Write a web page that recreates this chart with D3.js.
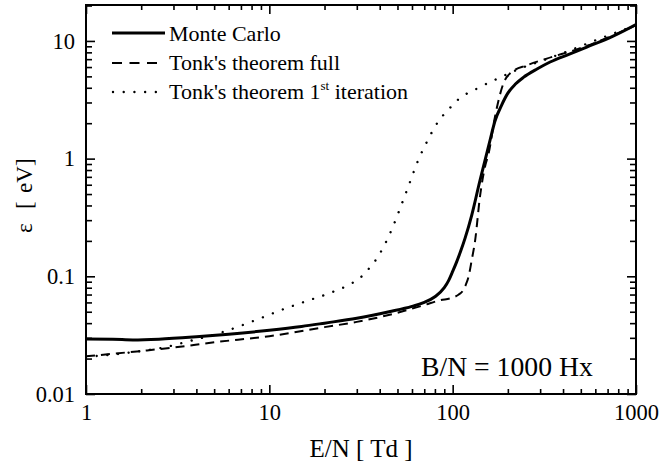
<!DOCTYPE html>
<html><head><meta charset="utf-8">
<script src="https://cdn.jsdelivr.net/npm/d3@7/dist/d3.min.js"></script>
<style>
body{margin:0;background:#fff}
svg{display:block}
text{font-family:"Liberation Serif","Times New Roman",serif;fill:#000}
</style>
</head><body>
<svg id="c" width="661" height="471"></svg>
<script>
// ---- data ----
const mcE   = [1, 1.4, 1.8, 2.5, 4, 6, 10, 15, 20, 30, 45, 60, 70, 80, 90, 95, 100, 105, 110, 117, 127, 141, 150, 160, 170, 185, 200, 220, 243, 290, 340, 430, 539, 750, 1000];
const mcEps = [0.0293, 0.0292, 0.0288, 0.0292, 0.0306, 0.0322, 0.0348, 0.0375, 0.040, 0.044, 0.050, 0.0555, 0.060, 0.067, 0.080, 0.092, 0.110, 0.132, 0.160, 0.212, 0.33, 0.655, 0.96, 1.44, 2.08, 2.85, 3.6, 4.3, 4.9, 5.8, 6.62, 7.7, 8.87, 11.0, 13.8];

const fullE   = [1, 2, 3, 5, 10, 20, 30, 50, 70, 85, 100, 108, 114, 118, 122, 127, 132.5, 141, 150, 157, 170, 189, 210, 254, 326, 500, 1000];
const fullEps = [0.0209, 0.0232, 0.0248, 0.0275, 0.031, 0.037, 0.041, 0.049, 0.057, 0.0625, 0.0660, 0.070, 0.076, 0.085, 0.099, 0.137, 0.20, 0.48, 0.85, 1.10, 2.25, 4.34, 5.44, 6.21, 7.08, 8.7, 13.6];

const iterE   = [1, 1.5, 2, 2.5, 3.74, 5.57, 8.28, 12.2, 16, 21, 27.3, 31.2, 35.4, 38.8, 41.9, 47.5, 52.7, 58, 64.2, 72.2, 84.2, 94, 107, 139, 181, 233, 312, 437, 650, 1000];
const iterEps = [0.0207, 0.0219, 0.0232, 0.0244, 0.0284, 0.0336, 0.042, 0.0532, 0.0617, 0.0713, 0.085, 0.0968, 0.119, 0.144, 0.177, 0.27, 0.41, 0.61, 0.93, 1.38, 2.11, 2.57, 3.17, 4.01, 4.88, 5.82, 6.84, 8.32, 10.6, 13.6];

const xTickValues = [1, 10, 100, 1000];
const xTickLabels = ["1", "10", "100", "1000"];
const yTickValues = [0.01, 0.1, 1, 10];
const yTickLabels = ["0.01", "0.1", "1", "10"];
const seriesNames = ["Monte Carlo", "Tonk's theorem full", "Tonk's theorem 1"];
const xTitle = "E/N [ Td ]";
const yTitleParts = ["\u03B5", "[", "eV", "]"];
const annotation = "B/N = 1000 Hx";

// ---- layout ----
const L = 86, R = 636, T = 5, B = 394;
const svg = d3.select("#c");
const x = d3.scaleLog().domain([1, 1000]).range([L, R]);
const y = d3.scaleLog().domain([0.01, 20.2]).range([B, T]);

function minors(lo, hi, max) {
  const out = [];
  for (let d = lo; d < hi; d *= 10)
    for (let k = 2; k <= 9; k++) if (d * k <= max) out.push(d * k);
  return out;
}
const xMinor = minors(1, 1000, 1000);
const yMinor = minors(0.01, 100, 20.2);

function styleAxis(g) {
  g.select(".domain").remove();
  g.selectAll("line").attr("stroke", "#000").attr("stroke-width", 1.6);
  g.selectAll("text").attr("font-size", 22.5).style("font-family", '"Liberation Serif","Times New Roman",serif');
}

// bottom
svg.append("g").attr("transform", `translate(0,${B})`)
  .call(d3.axisBottom(x).tickValues(xTickValues).tickFormat((d, i) => xTickLabels[i]).tickSize(-9).tickPadding(10)).call(styleAxis);
svg.append("g").attr("transform", `translate(0,${B})`)
  .call(d3.axisBottom(x).tickValues(xMinor).tickFormat("").tickSize(-5)).call(styleAxis);
// top
svg.append("g").attr("transform", `translate(0,${T})`)
  .call(d3.axisTop(x).tickValues(xTickValues).tickFormat("").tickSize(-9)).call(styleAxis);
svg.append("g").attr("transform", `translate(0,${T})`)
  .call(d3.axisTop(x).tickValues(xMinor).tickFormat("").tickSize(-5)).call(styleAxis);
// left
svg.append("g").attr("transform", `translate(${L},0)`)
  .call(d3.axisLeft(y).tickValues(yTickValues).tickFormat((d, i) => yTickLabels[i]).tickSize(-9).tickPadding(11)).call(styleAxis);
svg.append("g").attr("transform", `translate(${L},0)`)
  .call(d3.axisLeft(y).tickValues(yMinor).tickFormat("").tickSize(-6)).call(styleAxis);
// right
svg.append("g").attr("transform", `translate(${R},0)`)
  .call(d3.axisRight(y).tickValues(yTickValues).tickFormat("").tickSize(-9)).call(styleAxis);
svg.append("g").attr("transform", `translate(${R},0)`)
  .call(d3.axisRight(y).tickValues(yMinor).tickFormat("").tickSize(-6)).call(styleAxis);

// frame
svg.append("rect").attr("x", L).attr("y", T).attr("width", R - L).attr("height", B - T)
  .attr("fill", "none").attr("stroke", "#000").attr("stroke-width", 2);

// curves
const line = d3.line().x(d => x(d[0])).y(d => y(d[1])).curve(d3.curveMonotoneX);
svg.append("clipPath").attr("id", "pc").append("rect").attr("x", L).attr("y", T).attr("width", R - L).attr("height", B - T);
const gc = svg.append("g").attr("clip-path", "url(#pc)");
gc.append("path").datum(iterE.map((e, i) => [e, iterEps[i]])).attr("d", line)
  .attr("fill", "none").attr("stroke", "#000").attr("stroke-width", 2.4).attr("stroke-linecap", "round").attr("stroke-dasharray", "0.01,10.7");
gc.append("path").datum(fullE.map((e, i) => [e, fullEps[i]])).attr("d", line)
  .attr("fill", "none").attr("stroke", "#000").attr("stroke-width", 2).attr("stroke-dasharray", "9,6");
gc.append("path").datum(mcE.map((e, i) => [e, mcEps[i]])).attr("d", line)
  .attr("fill", "none").attr("stroke", "#000").attr("stroke-width", 3);

// legend
const leg = svg.append("g");
leg.append("line").attr("x1", 112).attr("x2", 165).attr("y1", 33).attr("y2", 33).attr("stroke", "#000").attr("stroke-width", 3);
leg.append("line").attr("x1", 112).attr("x2", 157).attr("y1", 63).attr("y2", 63).attr("stroke", "#000").attr("stroke-width", 2).attr("stroke-dasharray", "10,7.5");
leg.append("line").attr("x1", 113).attr("x2", 156).attr("y1", 92).attr("y2", 92).attr("stroke", "#000").attr("stroke-width", 2.4).attr("stroke-linecap", "round").attr("stroke-dasharray", "0.01,10.7");
leg.append("text").attr("x", 169).attr("y", 41).attr("font-size", 22).text(seriesNames[0]);
leg.append("text").attr("x", 169).attr("y", 70).attr("font-size", 22).text(seriesNames[1]);
const t3 = leg.append("text").attr("x", 169).attr("y", 99).attr("font-size", 22);
t3.append("tspan").text(seriesNames[2]);
t3.append("tspan").attr("font-size", 13).attr("dy", -9).text("st");
t3.append("tspan").attr("dy", 9).text(" iteration");

// annotation
svg.append("text").attr("x", 421).attr("y", 376).attr("font-size", 27.7).text(annotation);

// axis titles
svg.append("text").attr("x", 361).attr("y", 457).attr("text-anchor", "middle").attr("font-size", 25).text(xTitle);

const yt = svg.append("text").attr("transform", "translate(32,0) rotate(-90)").attr("font-size", 23);
const yPos = [-233, -209, -193, -166];
yTitleParts.forEach((p, i) => yt.append("tspan").attr("x", yPos[i]).text(p));
</script>
</body></html>
